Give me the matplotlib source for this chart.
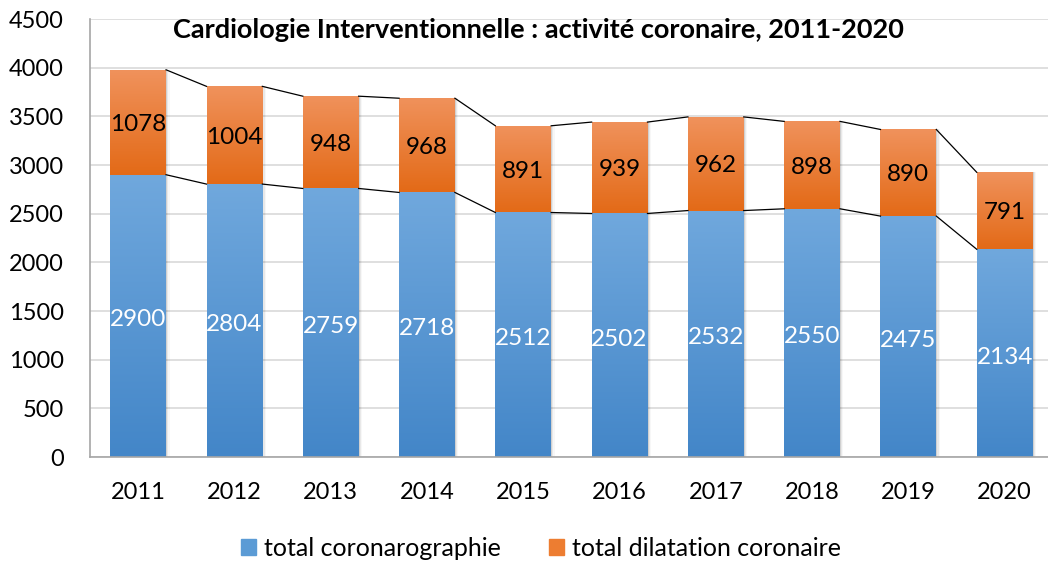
import numpy as np
import matplotlib.pyplot as plt
from matplotlib.colors import LinearSegmentedColormap
from matplotlib.patches import Rectangle

years = ["2011", "2012", "2013", "2014", "2015", "2016", "2017", "2018", "2019", "2020"]
coronarographie = [2900, 2804, 2759, 2718, 2512, 2502, 2532, 2550, 2475, 2134]
dilatation = [1078, 1004, 948, 968, 891, 939, 962, 898, 890, 791]

plt.rcParams['font.family'] = ['Lato', 'DejaVu Sans']

blue_cmap = LinearSegmentedColormap.from_list("b", ["#4386c8", "#70a8dd"])
orange_cmap = LinearSegmentedColormap.from_list("o", ["#e36a17", "#f0925c"])
grad = np.linspace(0, 1, 256).reshape(-1, 1)


def gradient_bars(ax, bars, cmap):
    for rect in bars:
        x, y = rect.get_x(), rect.get_y()
        w, h = rect.get_width(), rect.get_height()
        # soft shadow on the right
        for k, a in enumerate([0.10, 0.06, 0.03]):
            sh = Rectangle((x + w, y), 0.012 * (k + 1), h, color="black", alpha=a, lw=0, zorder=1)
            ax.add_patch(sh)
        rect.set_facecolor("none")
        im = ax.imshow(grad, cmap=cmap, extent=(x, x + w, y, y + h), origin="lower",
                       aspect="auto", zorder=2, interpolation="bilinear")
        im.set_clip_path(rect)


fig = plt.figure(figsize=(10.48, 5.63), dpi=100)
ax = fig.add_axes([90 / 1048, (563 - 457) / 563, (1048 - 90) / 1048, (457 - 19) / 563])

x = np.arange(len(years))
width = 0.58
b1 = ax.bar(x, coronarographie, width, lw=0, zorder=2)
b2 = ax.bar(x, dilatation, width, bottom=coronarographie, lw=0, zorder=2)
gradient_bars(ax, b1, blue_cmap)
gradient_bars(ax, b2, orange_cmap)

# series lines between bars
tops1 = np.array(coronarographie)
tops2 = tops1 + np.array(dilatation)
for i in range(len(years) - 1):
    for t in (tops1, tops2):
        ax.plot([x[i] + width / 2, x[i + 1] - width / 2], [t[i], t[i + 1]],
                color="black", lw=0.9, zorder=3)

for i in range(len(years)):
    ax.text(x[i], coronarographie[i] / 2 - 40, str(coronarographie[i]), ha="center", va="center",
            color="white", fontsize=17.5, zorder=4)
    ax.text(x[i], coronarographie[i] + dilatation[i] / 2 - 20, str(dilatation[i]), ha="center",
            va="center", color="black", fontsize=17.5, zorder=4)

ax.set_xlim(-0.5, 9.45)
ax.set_ylim(0, 4500)
ax.set_yticks(range(0, 4501, 500))
ax.set_xticks(x)
ax.set_xticklabels(years)
ax.tick_params(axis="both", length=0, labelsize=17, colors="black")
ax.tick_params(axis="y", pad=19)
ax.tick_params(axis="x", pad=18)
ax.grid(axis="y", color="#d9d9d9", lw=1.2, zorder=0)
ax.set_axisbelow(True)
for s in ["top", "right"]:
    ax.spines[s].set_visible(False)
ax.spines["left"].set_color("#a6a6a6")
ax.spines["bottom"].set_color("#a6a6a6")
ax.spines["left"].set_linewidth(1.2)
ax.spines["bottom"].set_linewidth(1.2)

fig.text(538 / 1048, 1 - 30 / 563, "Cardiologie Interventionnelle : activité coronaire, 2011-2020",
         ha="center", va="center", fontsize=19.5, fontweight="bold")

handles = [Rectangle((0, 0), 1, 1, color="#5b9bd5"), Rectangle((0, 0), 1, 1, color="#ed7d31")]
fig.legend(handles, ["total coronarographie", "total dilatation coronaire"],
           loc="center", bbox_to_anchor=(541 / 1048, 1 - 548 / 563), ncol=2, frameon=False,
           fontsize=18, handlelength=0.6, handleheight=0.6, handletextpad=0.35, columnspacing=1.9)

fig.savefig("out.png", dpi=100)
